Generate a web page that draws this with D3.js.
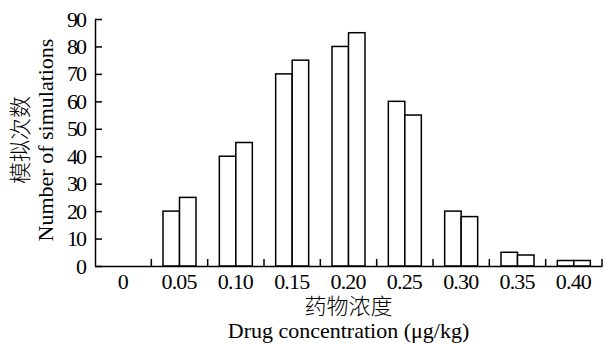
<!DOCTYPE html>
<html>
<head>
<meta charset="utf-8">
<script src="https://cdn.jsdelivr.net/npm/d3@7"></script>
<style>
body { margin: 0; background: #fff; }
text { font-family: "Liberation Serif", "Times New Roman", serif; fill: #000; }
.cjk { font-family: "Noto Sans CJK SC", sans-serif; font-weight: 300; }
</style>
</head>
<body>
<svg id="chart" width="605" height="344"></svg>
<script>
// data
var concentrations = ["0", "0.05", "0.10", "0.15", "0.20", "0.25", "0.30", "0.35", "0.40"];
var seriesA = [0, 20, 40, 70, 80, 60, 20, 5, 2];
var seriesB = [0, 25, 45, 75, 85, 55, 18, 4, 2];
var yTicks = [0, 10, 20, 30, 40, 50, 60, 70, 80, 90];

var svg = d3.select("#chart");
var plotL = 95, plotR = 602, plotT = 19, plotB = 266;

var x = d3.scaleBand().domain(concentrations).range([plotL, plotR]);
var sub = d3.scaleBand().domain([0, 1]).range([0, 33]);
var y = d3.scaleLinear().domain([0, 90]).range([plotB, plotT]);

var g = svg.append("g");

// bars
concentrations.forEach(function(c, i) {
  [seriesA[i], seriesB[i]].forEach(function(v, j) {
    if (v <= 0) return;
    g.append("rect")
      .attr("x", x(c) + x.bandwidth() / 2 - 16.5 + sub(j))
      .attr("y", y(v))
      .attr("width", sub.bandwidth())
      .attr("height", y(0) - y(v))
      .attr("fill", "#fff")
      .attr("stroke", "#000")
      .attr("stroke-width", 1.5);
  });
});

// y axis
var yAxis = g.append("g").attr("transform", "translate(" + plotL + ",0)")
  .call(d3.axisLeft(y).tickValues(yTicks).tickSizeInner(-7).tickSizeOuter(0).tickPadding(8));
yAxis.selectAll("text").attr("font-family", null).style("font-size", "22px").attr("textLength", 20);

// x axis: labels centred on bands, ticks on band edges
var xAxis = g.append("g").attr("transform", "translate(0," + plotB + ")")
  .call(d3.axisBottom(x).tickSize(0).tickPadding(7));
xAxis.selectAll("text").attr("font-family", null).style("font-size", "22px").attr("dy", "0.71em")
  .attr("textLength", function(d) { return d.length > 1 ? 36 : null; });
var edges = concentrations.slice(1).map(function(c) { return x(c); }).concat([plotR]);
xAxis.selectAll(".edge").data(edges).enter().append("line")
  .attr("x1", function(d) { return d; }).attr("x2", function(d) { return d; })
  .attr("y1", 0).attr("y2", -7).attr("stroke", "#000").attr("stroke-width", 1.5);

svg.selectAll(".domain").attr("stroke-width", 1.5);
svg.selectAll(".tick line").attr("stroke-width", 1.5);

// axis titles
var cx = (plotL + plotR) / 2;
svg.append("text").attr("class", "cjk").attr("x", cx).attr("y", 314)
  .attr("text-anchor", "middle").style("font-size", "22px").text("药物浓度");
svg.append("text").attr("x", cx).attr("y", 338)
  .attr("text-anchor", "middle").style("font-size", "22px").text("Drug concentration (μg/kg)");

svg.append("text").attr("class", "cjk")
  .attr("transform", "translate(28,140) rotate(-90)")
  .attr("text-anchor", "middle").style("font-size", "22px").text("模拟次数");
svg.append("text")
  .attr("transform", "translate(53,140) rotate(-90)")
  .attr("text-anchor", "middle").style("font-size", "22px").text("Number of simulations");
</script>
</body>
</html>
